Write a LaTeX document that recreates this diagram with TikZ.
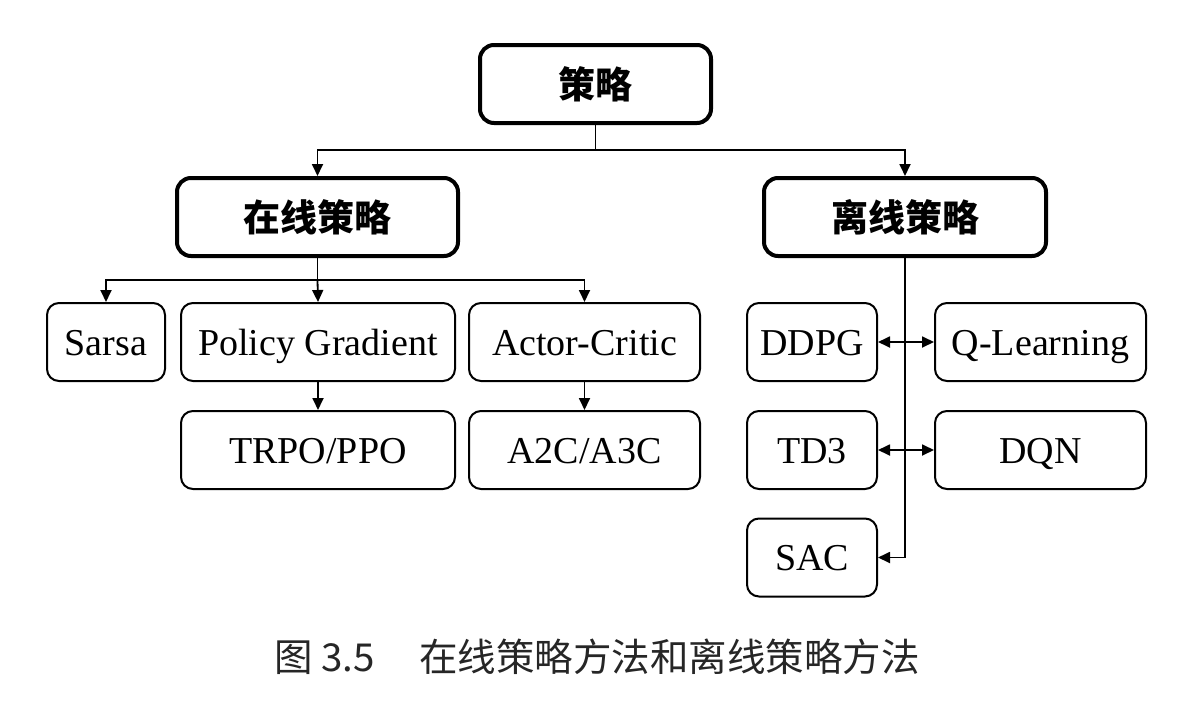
\documentclass[tikz,border=0pt]{standalone}
\usepackage{fontspec}
\setmainfont{Liberation Serif}
\newfontfamily\cjk{Noto Sans CJK SC}
\usetikzlibrary{arrows.meta}
\begin{document}
\begin{tikzpicture}[x=1pt,y=-1pt,
  box/.style={draw, rounded corners=12pt, line width=2pt, inner sep=0pt,
    minimum height=78pt, text height=30pt, text depth=4pt,
    font=\fontsize{38}{40}\selectfont},
  bigbox/.style={draw, rounded corners=14pt, line width=4pt, inner sep=0pt,
    minimum height=78pt, font=\cjk\bfseries\fontsize{37}{40}\selectfont},
  conn/.style={line width=1.8pt, -{Triangle[length=12pt,width=11pt]}},
  line/.style={line width=1.8pt},
  dconn/.style={line width=1.8pt, {Triangle[length=12pt,width=11pt]}-{Triangle[length=12pt,width=11pt]}}
]
\useasboundingbox (0,0) rectangle (1204,720);
\fill[white] (0,0) rectangle (1204,720);

\node[bigbox, minimum width=231pt] (root) at (595.5,84) {策略};
\node[bigbox, minimum width=281pt] (on) at (317.5,217) {在线策略};
\node[bigbox, minimum width=282pt] (off) at (905,217) {离线策略};

\node[box, minimum width=118pt] (sarsa) at (106,342) {Sarsa};
\node[box, minimum width=274pt] (pg) at (318,342) {Policy Gradient};
\node[box, minimum width=231pt] (ac) at (584.5,342) {Actor-Critic};
\node[box, minimum width=274pt] (trpo) at (318,450) {TRPO/PPO};
\node[box, minimum width=231pt] (a2c) at (584.5,450) {A2C/A3C};

\node[box, minimum width=130pt] (ddpg) at (812,342) {DDPG};
\node[box, minimum width=211pt] (ql) at (1040.5,342) {Q-Learning};
\node[box, minimum width=130pt] (td3) at (812,450) {TD3};
\node[box, minimum width=211pt] (dqn) at (1040.5,450) {DQN};
\node[box, minimum width=130pt] (sac) at (812,557.5) {SAC};

\coordinate (j0) at (595.5,150);
\coordinate (j1) at (317.5,280);

\draw[line] (root.south) -- (j0);
\draw[conn] (j0) -| (on.north);
\draw[conn] (j0) -| (off.north);

\draw[line] (on.south) -- (j1);
\draw[conn] (j1) -| (sarsa.north);
\draw[conn] (j1) -- (pg.north);
\draw[conn] (j1) -| (ac.north);

\draw[conn] (pg.south) -- (trpo.north);
\draw[conn] (ac.south) -- (a2c.north);

\draw[conn] (off.south) |- (sac.east);
\draw[dconn] (ddpg.east) -- (ql.west);
\draw[dconn] (td3.east) -- (dqn.west);

\node[font=\cjk\fontsize{38.5}{40}\selectfont, text=black!85] (cap) at (597,657) {图 3.5\hspace{44pt}在线策略方法和离线策略方法};
\end{tikzpicture}
\end{document}
